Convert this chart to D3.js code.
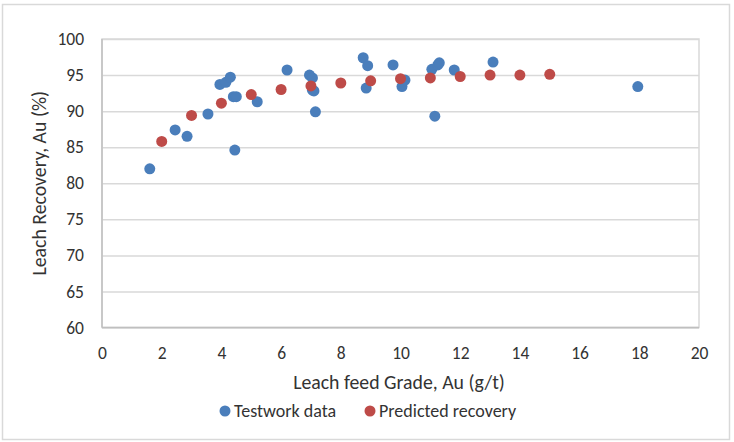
<!doctype html>
<html>
<head>
<meta charset="UTF-8">
<title>Leach recovery</title>
<script src="https://d3js.org/d3.v7.min.js"></script>
<style>
  body { margin: 0; background: #fff; }
  text { font-family: Calibri, Carlito, "Open Sans", "Liberation Sans", sans-serif; fill: #333; }
</style>
</head>
<body>
<svg id="chart" width="734" height="442"></svg>
<script>
// testwork data (feed grade g/t, recovery %)
var testGrade = [1.6, 2.45, 2.85, 3.55, 3.95, 4.15, 4.3, 4.4, 4.5, 4.45, 5.2, 6.2, 6.95, 7.05, 7.05, 7.1, 7.15,
                 8.75, 8.85, 8.9, 9.75, 10.05, 10.15, 11.05, 11.15, 11.25, 11.3, 11.8, 13.1, 17.95];
var testRec   = [82.0, 87.4, 86.5, 89.6, 93.7, 94.0, 94.7, 92.0, 92.0, 84.6, 91.3, 95.7, 95.0, 94.6, 92.9, 92.8, 89.9,
                 97.4, 93.2, 96.3, 96.4, 93.4, 94.3, 95.8, 89.3, 96.4, 96.7, 95.7, 96.8, 93.4];

// predicted recovery curve points
var predGrade = [2, 3, 4, 5, 6, 7, 8, 9, 10, 11, 12, 13, 14, 15];
var predRec   = [85.8, 89.4, 91.1, 92.3, 93.0, 93.5, 93.9, 94.2, 94.5, 94.6, 94.8, 95.0, 95.0, 95.1];

var xTicks = [0, 2, 4, 6, 8, 10, 12, 14, 16, 18, 20];
var yTicks = [60, 65, 70, 75, 80, 85, 90, 95, 100];

var blue = "#4a7ebb", red = "#be4b48";

var svg = d3.select("#chart");
var pLeft = 102, pRight = 699, pTop = 39, pBottom = 327.5;

var x = d3.scaleLinear().domain([0, 20]).range([pLeft, pRight]);
var y = d3.scaleLinear().domain([60, 100]).range([pBottom, pTop]);

// outer chart border
svg.append("rect")
  .attr("x", 2.5).attr("y", 4.5).attr("width", 727).attr("height", 435)
  .attr("fill", "#fff").attr("stroke", "#d9d9d9").attr("stroke-width", 1.5);

// plot area border
svg.append("rect")
  .attr("x", pLeft).attr("y", pTop).attr("width", pRight - pLeft).attr("height", pBottom - pTop)
  .attr("fill", "none").attr("stroke", "#d9d9d9").attr("stroke-width", 1.5);

// horizontal gridlines
svg.append("g")
  .attr("transform", "translate(" + pLeft + ",0)")
  .call(d3.axisLeft(y).tickValues(yTicks).tickSize(-(pRight - pLeft)).tickFormat(""))
  .call(function (g) {
    g.select(".domain").remove();
    g.selectAll("line").attr("stroke", "#d9d9d9").attr("stroke-width", 1.5);
  });

// axis lines
svg.append("line").attr("x1", pLeft).attr("x2", pLeft).attr("y1", pTop).attr("y2", pBottom)
  .attr("stroke", "#bfbfbf").attr("stroke-width", 1.5);
svg.append("line").attr("x1", pLeft).attr("x2", pRight).attr("y1", pBottom).attr("y2", pBottom)
  .attr("stroke", "#bfbfbf").attr("stroke-width", 1.5);

// tick labels
svg.append("g")
  .attr("transform", "translate(" + pLeft + ",0)")
  .call(d3.axisLeft(y).tickValues(yTicks).tickSize(0).tickPadding(18))
  .call(function (g) {
    g.select(".domain").remove();
    g.selectAll("text").attr("font-size", 17.5).style("font-family", null).attr("fill", "#333");
  });

svg.append("g")
  .attr("transform", "translate(0," + pBottom + ")")
  .call(d3.axisBottom(x).tickValues(xTicks).tickSize(0).tickPadding(19))
  .call(function (g) {
    g.select(".domain").remove();
    g.selectAll("text").attr("font-size", 17.5).style("font-family", null).attr("fill", "#333");
  });

// axis titles
svg.append("text")
  .attr("x", 399).attr("y", 389)
  .attr("text-anchor", "middle").attr("font-size", 19.8)
  .text("Leach feed Grade, Au (g/t)");

svg.append("text")
  .attr("transform", "translate(46," + (pTop + pBottom) / 2 + ") rotate(-90)")
  .attr("text-anchor", "middle").attr("font-size", 19.8)
  .text("Leach Recovery, Au (%)");

// points
var testData = testGrade.map(function (g, i) { return [g, testRec[i]]; });
var predData = predGrade.map(function (g, i) { return [g, predRec[i]]; });

svg.append("g").selectAll("circle").data(testData).enter().append("circle")
  .attr("cx", function (d) { return x(d[0]); })
  .attr("cy", function (d) { return y(d[1]); })
  .attr("r", 5.5).attr("fill", blue);

svg.append("g").selectAll("circle").data(predData).enter().append("circle")
  .attr("cx", function (d) { return x(d[0]); })
  .attr("cy", function (d) { return y(d[1]); })
  .attr("r", 5.5).attr("fill", red);

// legend
var legend = [["Testwork data", blue, 225], ["Predicted recovery", red, 370]];
legend.forEach(function (l) {
  svg.append("circle").attr("cx", l[2]).attr("cy", 411).attr("r", 5.5).attr("fill", l[1]);
  svg.append("text").attr("x", l[2] + 9).attr("y", 417).attr("font-size", 18).text(l[0]);
});
</script>
</body>
</html>
